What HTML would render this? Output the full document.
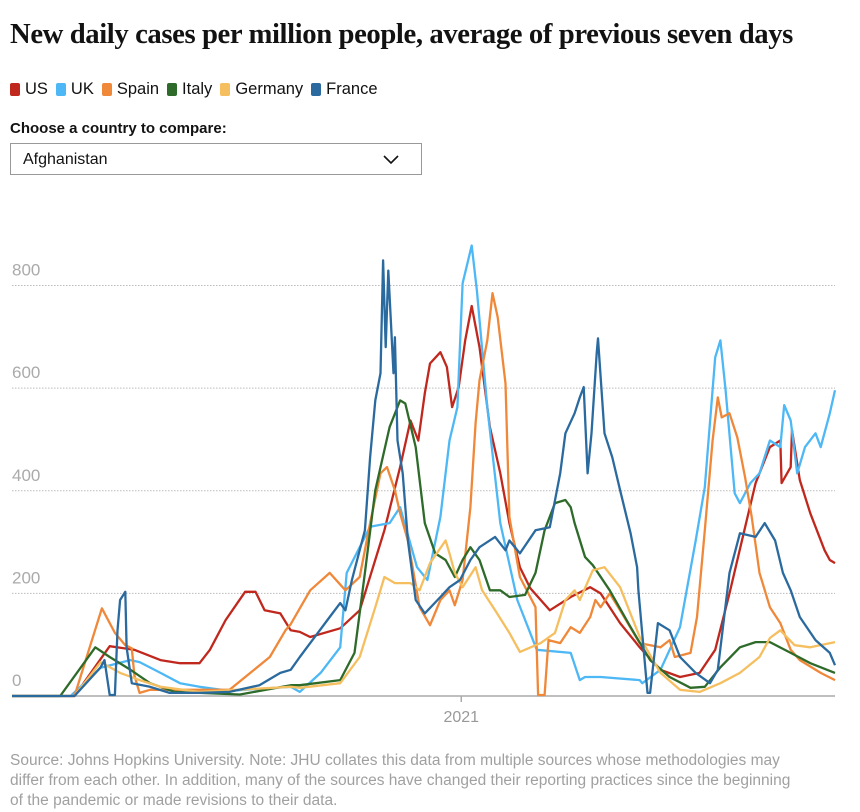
<!DOCTYPE html>
<html><head><meta charset="utf-8"><style>
body{margin:0;background:#fff;width:860px;height:812px;overflow:hidden;font-family:"Liberation Sans",sans-serif;position:relative}
.t{position:absolute;left:10px;top:18px;font:bold 28.7px "Liberation Serif",serif;color:#121212;letter-spacing:-0.4px;white-space:nowrap}
.lg{position:absolute;left:10px;top:80px;font-size:16.5px;color:#121212;display:flex;gap:0}
.lg span{display:inline-flex;align-items:center;margin-right:8px}
.lg i{display:inline-block;width:10px;height:13px;border-radius:2px;margin-right:5px}
.ch{position:absolute;left:10px;top:120px;font-weight:bold;font-size:15px;color:#121212}
.sel{position:absolute;left:10px;top:143px;width:412px;height:32px;border:1px solid #999;box-sizing:border-box;font-size:16px;padding:7px 12px;color:#121212}
.src{position:absolute;left:10px;top:751px;width:795px;font-size:15.5px;line-height:20px;color:#a0a0a0}
</style></head><body>
<div class="t">New daily cases per million people, average of previous seven days</div>
<div class="lg">
<span><i style="background:#c0281e"></i>US</span>
<span><i style="background:#4db8f5"></i>UK</span>
<span><i style="background:#f0883a"></i>Spain</span>
<span><i style="background:#2e6b2a"></i>Italy</span>
<span><i style="background:#f5bf60"></i>Germany</span>
<span><i style="background:#2b6a9e"></i>France</span>
</div>
<div class="ch">Choose a country to compare:</div>
<div class="sel">Afghanistan
<svg style="position:absolute;right:22px;top:11px" width="16" height="10"><path d="M1 1 L8 8 L15 1" fill="none" stroke="#121212" stroke-width="1.6"/></svg></div>
<svg id="c" width="860" height="812" style="position:absolute;left:0;top:0"></svg>
<div class="src">Source: Johns Hopkins University. Note: JHU collates this data from multiple sources whose methodologies may differ from each other. In addition, many of the sources have changed their reporting practices since the beginning of the pandemic or made revisions to their data.</div>
<script>
const yTicks=[0,200,400,600,800];
const xTickDays=[345];
const xTickLabels=["2021"];
const usDays=[0,48,75,94,114,129,144,152,164,179,187,194,206,214,221,229,252,267,286,298,306,312,317,321,329,334,338,343,348,353,359,367,375,382,390,398,413,429,444,452,467,482,498,513,528,540,551,563,571,582,590,591,598,599,605,613,624,628,632];
const usVals=[0,0,97,90,70,64,64,90,148,203,203,167,161,128,125,115,132,167,323,446,537,498,590,648,670,641,563,602,693,760,680,524,434,337,251,210,167,193,212,200,142,95,51,37,45,90,200,329,415,485,498,415,446,518,421,356,284,265,259];
const ukDays=[0,45,68,91,98,114,129,144,167,190,214,221,237,252,257,275,290,298,311,319,329,336,342,346,353,357,365,375,388,403,429,436,440,452,482,484,498,513,525,532,540,544,548,555,559,567,574,582,590,593,598,603,609,617,621,628,632];
const ukVals=[0,0,55,70,66,45,25,18,10,14,18,8,45,95,240,330,337,368,251,226,349,498,563,804,878,790,563,337,187,90,84,31,37,37,31,25,51,134,303,407,660,693,596,395,376,415,434,498,485,567,537,434,485,512,485,551,596];
const spainDays=[0,48,69,79,87,92,94,98,106,144,167,183,198,210,214,229,244,256,267,275,283,288,294,298,304,313,321,329,336,340,346,352,356,359,365,369,373,379,382,390,402,404,409,412,421,429,436,444,448,452,459,467,482,498,505,509,521,526,532,538,542,545,551,557,563,568,574,582,590,598,605,621,632];
const spainVals=[0,0,171,123,99,93,40,6,12,12,12,45,76,128,140,206,240,206,232,337,434,446,401,356,303,173,138,187,206,177,226,368,532,615,693,785,738,609,349,232,173,2,2,109,103,134,123,154,187,173,200,167,103,95,109,76,84,154,323,498,582,543,551,504,426,349,240,173,142,90,70,45,31];
const italyDays=[0,37,64,75,91,106,125,175,214,221,252,263,271,279,290,298,302,310,317,325,333,340,346,352,359,367,375,382,394,402,409,417,425,429,432,440,446,459,475,490,505,521,532,544,559,571,582,598,613,632];
const italyVals=[0,0,95,76,51,25,8,3,21,21,31,84,240,401,524,576,570,485,337,278,265,232,265,290,265,206,206,193,197,240,323,376,382,368,337,271,255,206,134,70,37,16,18,56,95,105,105,84,64,45];
const germanyDays=[0,48,68,83,98,114,144,214,221,252,267,279,286,294,306,313,321,333,336,340,346,356,361,371,382,390,406,417,425,432,436,446,455,467,482,498,513,528,544,559,574,582,590,601,613,632];
const germanyVals=[0,0,66,45,31,18,8,18,16,25,76,173,232,220,220,206,259,303,278,240,212,251,206,167,123,86,103,123,187,206,187,245,251,212,115,45,12,8,25,45,76,113,128,99,95,105];
const franceDays=[0,48,68,71,75,79,81,83,87,88,92,106,121,144,167,190,206,214,221,229,244,252,256,261,271,275,279,283,285,287,289,293,294,296,300,304,310,317,329,336,344,352,359,371,379,382,390,402,413,421,425,432,436,439,442,445,449,450,455,461,467,475,480,481,488,490,496,505,513,525,536,542,551,559,571,578,586,592,598,605,617,628,632];
const franceVals=[0,0,56,70,2,2,128,187,203,95,25,18,6,6,8,21,45,51,76,103,154,181,167,226,323,465,576,629,849,680,829,629,699,498,434,303,187,161,193,212,226,265,290,310,284,303,278,323,329,434,512,551,582,602,434,512,668,697,512,465,401,317,251,206,6,6,142,128,76,45,25,51,240,317,310,337,303,240,206,154,109,84,60,70];

const svg=document.getElementById('c');const NS='http://www.w3.org/2000/svg';
const x0=12,x1=835,d0=0,d1=632,yb=696,yt=285.5,vmax=800;
const xs=d=>x0+(d-d0)/(d1-d0)*(x1-x0);
const ys=v=>yb-(v/vmax)*(yb-yt);
function mk(t,a){const e=document.createElementNS(NS,t);for(const k in a)e.setAttribute(k,a[k]);svg.appendChild(e);return e;}
yTicks.forEach(v=>{
  if(v>0){const l=mk('line',{x1:12,x2:835,y1:ys(v),y2:ys(v),stroke:'#bbb','stroke-width':1,'stroke-dasharray':'1.5,1.5'});
  
  }
  const t=mk('text',{x:12,y:ys(v)-10,'font-size':17,fill:'#aaa','font-family':'Liberation Sans, sans-serif'});
  t.textContent=v;
  
  
});
const ax=mk('line',{x1:12,x2:835,y1:yb,y2:yb,stroke:'#aaa','stroke-width':1.5});


xTickDays.forEach((d,i)=>{
  const tk=mk('line',{x1:xs(d),x2:xs(d),y1:yb,y2:yb+6,stroke:'#aaa','stroke-width':1.5});
  
  
  const t=mk('text',{x:xs(d),y:722,'font-size':16,fill:'#999','text-anchor':'middle','font-family':'Liberation Sans, sans-serif'});
  t.textContent=xTickLabels[i];
  
  
});
const series=[["us",usDays,usVals,"#c0281e"],["uk",ukDays,ukVals,"#4db8f5"],["spain",spainDays,spainVals,"#f0883a"],["italy",italyDays,italyVals,"#2e6b2a"],["germany",germanyDays,germanyVals,"#f5bf60"],["france",franceDays,franceVals,"#2b6a9e"]];
series.forEach(s=>{
  const p=s[1].map((d,i)=>(i?'L':'M')+xs(d).toFixed(1)+' '+ys(s[2][i]).toFixed(1)).join(' ');
  const e=mk('path',{d:p,fill:'none',stroke:s[3],'stroke-width':2.3,'stroke-linejoin':'round'});
  
  
});
</script>
</body></html>
